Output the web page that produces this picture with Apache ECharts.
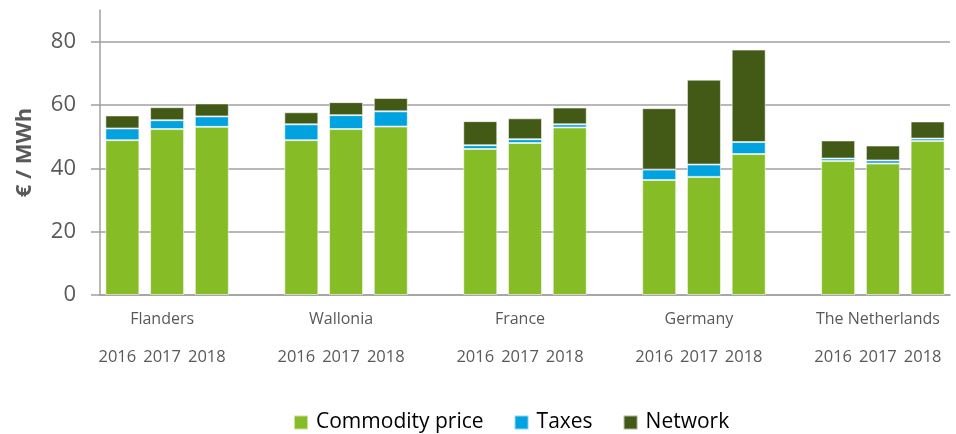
<!DOCTYPE html>
<html>
<head>
<meta charset="utf-8">
<script src="https://cdn.jsdelivr.net/npm/echarts@6/dist/echarts.min.js"></script>
<style>html,body{margin:0;padding:0;background:#fff;}#c{width:956px;height:434px;}</style>
</head>
<body>
<div id="c"></div>
<script>
const regions = ['Flanders', 'Wallonia', 'France', 'Germany', 'The Netherlands'];
const years = ['2016', '2017', '2018'];
// values per region, in year order (2016, 2017, 2018)
const commodity = [48.9, 52.4, 53.1,  48.9, 52.4, 53.2,  46.1, 48.0, 52.9,  36.3, 37.3, 44.5,  42.3, 41.5, 48.6];
const taxes     = [3.7, 2.8, 3.3,     5.0, 4.4, 4.8,     1.2, 1.2, 1.0,     3.3, 3.9, 3.8,     0.8, 1.0, 0.8];
const network   = [4.1, 4.1, 4.1,     3.8, 4.1, 4.2,     7.6, 6.6, 5.3,     19.4, 26.8, 29.2,  5.7, 4.7, 5.4];
const yTicks = [0, 20, 40, 60, 80];

// build slots with an empty gap slot between region groups
const slotIds = [], regionLabels = [], yearLabels = [];
const cData = [], tData = [], nData = [];
regions.forEach((r, ri) => {
  years.forEach((y, yi) => {
    const k = ri * years.length + yi;
    slotIds.push(r + ' ' + y);
    regionLabels.push(yi === 1 ? r : '');
    yearLabels.push(y);
    cData.push(commodity[k]); tData.push(taxes[k]); nData.push(network[k]);
  });
  if (ri < regions.length - 1) {
    slotIds.push('gap' + ri);
    regionLabels.push(''); yearLabels.push('');
    cData.push('-'); tData.push('-'); nData.push('-');
  }
});

const FONT = 'Open Sans';
const GRAY = '#595959';
const chart = echarts.init(document.getElementById('c'));
const barBorder = { borderColor: 'rgba(255,255,255,0.55)', borderWidth: 1 };
chart.setOption({
  animation: false,
  textStyle: { fontFamily: FONT },
  grid: { left: 100, right: 6, top: 10, bottom: 139, containLabel: false },
  legend: {
    top: 407, left: 288,
    icon: 'rect', itemWidth: 14, itemHeight: 14, itemGap: 30,
    textStyle: { fontFamily: FONT, fontSize: 21, color: '#000', padding: [0, 0, 0, 3] },
    data: ['Commodity price', 'Taxes', 'Network']
  },
  xAxis: [
    {
      type: 'category', data: slotIds, position: 'bottom',
      axisLine: { show: true, lineStyle: { color: '#a0a0a0', width: 1.5 } },
      axisTick: { show: false },
      axisLabel: {
        interval: 0, margin: 16, fontFamily: FONT, fontSize: 16, color: GRAY,
        padding: [0, 10, 0, 0],
        formatter: (v, i) => regionLabels[i]
      }
    },
    {
      type: 'category', data: slotIds, position: 'bottom', gridIndex: 0,
      axisLine: { show: false }, axisTick: { show: false },
      axisLabel: {
        interval: 0, margin: 54, fontFamily: FONT, fontSize: 16.5, color: GRAY,
        padding: [0, 10, 0, 0],
        formatter: (v, i) => yearLabels[i]
      }
    }
  ],
  yAxis: {
    type: 'value', min: 0, max: 90, interval: 20,
    name: '€ / MWh', nameLocation: 'middle', nameGap: 64, nameRotate: 90,
    nameTextStyle: { fontFamily: FONT, fontSize: 22, fontWeight: 'bold', color: GRAY },
    axisLine: { show: true, lineStyle: { color: '#a0a0a0', width: 1.5 } },
    axisTick: { show: true, length: 9, customValues: yTicks, lineStyle: { color: '#a0a0a0', width: 1.5 } },
    axisLabel: { margin: 24, fontFamily: FONT, fontSize: 22, color: GRAY, customValues: yTicks },
    splitLine: { show: true, lineStyle: { color: ['#a0a0a0', '#a0a0a0', '#a0a0a0', '#a0a0a0', '#a0a0a0', 'rgba(0,0,0,0)'], width: 1.5 } }
  },
  series: [
    { name: 'Commodity price', type: 'bar', stack: 's', barWidth: 34, data: cData, itemStyle: Object.assign({ color: '#86BC25' }, barBorder) },
    { name: 'Taxes', type: 'bar', stack: 's', barWidth: 34, data: tData, itemStyle: Object.assign({ color: '#00A3E0' }, barBorder) },
    { name: 'Network', type: 'bar', stack: 's', barWidth: 34, data: nData, itemStyle: Object.assign({ color: '#435A16' }, barBorder) }
  ]
});
</script>
</body>
</html>
